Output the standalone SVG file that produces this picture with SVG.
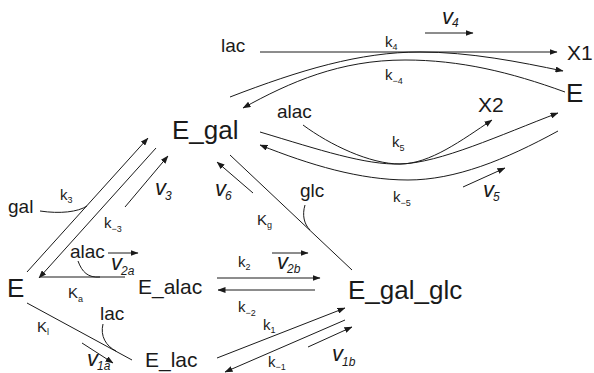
<svg xmlns="http://www.w3.org/2000/svg" width="594" height="373" viewBox="0 0 594 373">
<style>
text{font-family:"Liberation Sans",Arial,sans-serif;fill:#1a1a1a}
.big{font-size:26px}
.mid{font-size:21px}
.sp{font-size:19px}
.k{font-size:15px}
.ks{font-size:9px}
.v{font-size:22px;font-style:italic}
.vs{font-size:12px;font-style:italic}
.ln{fill:none;stroke:#1a1a1a;stroke-width:1}
.ar{marker-end:url(#ah)}
</style>
<defs>
<marker id="ah" viewBox="0 0 8 6" refX="7.5" refY="3" markerWidth="8" markerHeight="6" markerUnits="userSpaceOnUse" orient="auto">
<path d="M0,0 L8,3 L0,6 z" fill="#1a1a1a"/>
</marker>
</defs>
<rect width="594" height="373" fill="#fff"/>
<g id="connectors">
<path class="ln ar" d="M27,272 L148,138"/>
<path class="ln ar" d="M156,148 L39,278"/>
<path class="ln ar" d="M125,207 L168,156"/>
<path class="ln" d="M40,211 C60,214 78,212 87,206"/>
<path class="ln" d="M40,277 L125,277"/>
<path class="ln" d="M78,261 C82,272 88,278 100,277"/>
<path class="ln ar" d="M108,253 L138,253"/>
<path class="ln" d="M27,303 L132,360"/>
<path class="ln" d="M103,324 C100,336 106,346 116,351"/>
<path class="ln ar" d="M82,343 L113,363"/>
<path class="ln ar" d="M217,278 L320,278"/>
<path class="ln ar" d="M315,290 L218,290"/>
<path class="ln ar" d="M272,253 L308,253"/>
<path class="ln ar" d="M217,358 L345,308"/>
<path class="ln ar" d="M345,320 L225,372"/>
<path class="ln ar" d="M308,347 L352,327"/>
<path class="ln" d="M230,155 L352,270"/>
<path class="ln" d="M305,205 C302,215 304,224 310,230"/>
<path class="ln ar" d="M253,193 L217,162"/>
<path class="ln ar" d="M260,52 L557,52"/>
<path class="ln ar" d="M230,97 C300,70 360,52 420,52 C470,52 520,62 563,71"/>
<path class="ln ar" d="M565,92 C510,72 460,60 405,60 C340,60 290,82 243,108"/>
<path class="ln ar" d="M425,33 L473,33"/>
<path class="ln ar" d="M260,132 C320,150 365,165 400,164 C440,163 500,135 558,113"/>
<path class="ln ar" d="M303,125 C330,145 370,164 400,164 C430,164 462,140 492,120"/>
<path class="ln ar" d="M558,131 C505,160 455,180 408,180 C360,180 310,165 260,145"/>
<path class="ln ar" d="M463,187 L505,168"/>
</g>
<g id="node-E"><text class="big" x="7" y="297">E</text></g>
<g id="node-E_gal"><text class="big" x="172" y="139">E_gal</text></g>
<g id="node-E_gal_glc"><text class="big" x="348" y="299">E_gal_glc</text></g>
<g id="node-E_right"><text class="big" x="566" y="102">E</text></g>
<g id="node-X1"><text class="mid" x="567" y="60">X1</text></g>
<g id="node-X2"><text class="mid" x="478" y="112">X2</text></g>
<g id="node-E_alac"><text class="mid" x="138" y="294">E_alac</text></g>
<g id="node-E_lac"><text class="mid" x="145" y="367">E_lac</text></g>
<g id="species">
<text class="sp" x="8" y="213">gal</text>
<text class="sp" x="70" y="258">alac</text>
<text class="sp" x="100" y="320">lac</text>
<text class="sp" x="300" y="197">glc</text>
<text class="sp" x="221" y="52">lac</text>
<text class="sp" x="277" y="118">alac</text>
</g>
<g id="rate-constants">
<text class="k" x="60" y="200">k<tspan class="ks" dy="3">3</tspan></text>
<text class="k" x="104" y="228">k<tspan class="ks" dy="4">−3</tspan></text>
<text class="k" x="68" y="298">K<tspan class="ks" dy="4">a</tspan></text>
<text class="k" x="37" y="332">K<tspan class="ks" dy="3">l</tspan></text>
<text class="k" x="238" y="267">k<tspan class="ks" dy="3">2</tspan></text>
<text class="k" x="238" y="312">k<tspan class="ks" dy="4">−2</tspan></text>
<text class="k" x="263" y="330">k<tspan class="ks" dy="3">1</tspan></text>
<text class="k" x="268" y="367">k<tspan class="ks" dy="3">−1</tspan></text>
<text class="k" x="257" y="225">K<tspan class="ks" dy="3">g</tspan></text>
<text class="k" x="385" y="47">k<tspan class="ks" dy="3">4</tspan></text>
<text class="k" x="385" y="80">k<tspan class="ks" dy="4">−4</tspan></text>
<text class="k" x="392" y="147">k<tspan class="ks" dy="4">5</tspan></text>
<text class="k" x="393" y="202">k<tspan class="ks" dy="4">−5</tspan></text>
</g>
<g id="rates">
<text class="v" x="155" y="195">v<tspan class="vs" dx="-1" dy="5">3</tspan></text>
<text class="v" x="215" y="196">v<tspan class="vs" dx="-1" dy="4">6</tspan></text>
<text class="v" x="111" y="270">v<tspan class="vs" dx="-1" dy="5">2a</tspan></text>
<text class="v" x="277" y="269">v<tspan class="vs" dx="-1" dy="4">2b</tspan></text>
<text class="v" x="87" y="366">v<tspan class="vs" dx="-1" dy="4">1a</tspan></text>
<text class="v" x="332" y="361">v<tspan class="vs" dx="-1" dy="5">1b</tspan></text>
<text class="v" x="442" y="24">v<tspan class="vs" dx="-1" dy="3">4</tspan></text>
<text class="v" x="483" y="197">v<tspan class="vs" dx="-1" dy="4">5</tspan></text>
</g>
</svg>
